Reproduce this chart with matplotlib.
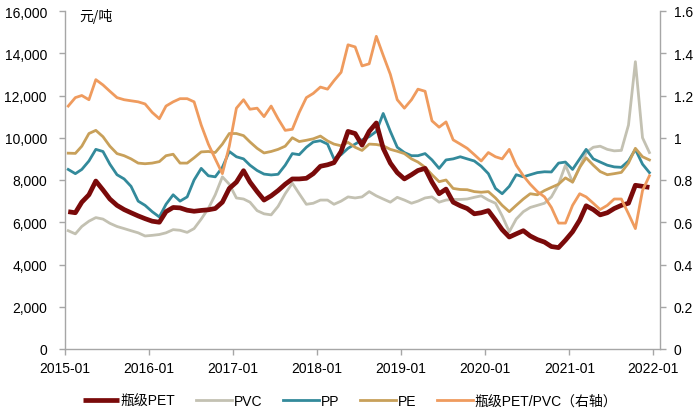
import matplotlib
matplotlib.use("Agg")
import matplotlib.pyplot as plt
import matplotlib.dates as mdates
from matplotlib.ticker import FuncFormatter, MultipleLocator
import pandas as pd

plt.rcParams['font.family'] = ['Liberation Sans', 'Noto Sans CJK SC', 'DejaVu Sans']

# monthly observations (mid-month), 2015-01 .. 2021-12
dates = pd.date_range('2015-01-01', periods=84, freq='MS') + pd.Timedelta(days=14)

pet = [6500, 6450, 6950, 7300, 7950, 7530, 7100, 6800, 6600, 6450, 6300, 6170,
       6050, 6000, 6500, 6700, 6680, 6570, 6520, 6560, 6590, 6650, 6950, 7600,
       7900, 8440, 7900, 7450, 7050, 7250, 7500, 7800, 8050, 8050, 8080, 8300,
       8650, 8720, 8820, 9350, 10300, 10200, 9650, 10300, 10700, 9500, 8800, 8350,
       8050, 8250, 8450, 8550, 7900, 7350, 7570, 6950, 6780, 6650, 6400, 6450,
       6550, 6100, 5650, 5300, 5450, 5600, 5350, 5180, 5060, 4850, 4800, 5150,
       5550, 6100, 6780, 6600, 6350, 6450, 6650, 6800, 6900, 7750, 7700, 7650]

pvc = [5600, 5450, 5800, 6050, 6220, 6150, 5950, 5800, 5700, 5600, 5500, 5350,
       5380, 5420, 5500, 5650, 5620, 5520, 5700, 6150, 6650, 7300, 8150, 7800,
       7150, 7100, 6950, 6550, 6400, 6350, 6750, 7350, 7850, 7350, 6850, 6900,
       7050, 7050, 6850, 7000, 7200, 7150, 7200, 7450, 7250, 7100, 6950, 7180,
       7050, 6900, 7000, 7150, 7200, 6950, 7050, 7080, 7080, 7100, 7180, 7250,
       7050, 6900, 6300, 5550, 6150, 6500, 6700, 6800, 6900, 7200, 7800, 8700,
       7900, 8600, 9300, 9550, 9600, 9450, 9380, 9400, 10600, 13600, 10000, 9300]

pp = [8500, 8300, 8500, 8900, 9450, 9350, 8750, 8250, 8050, 7700, 7000, 6800,
      6500, 6250, 6850, 7300, 7000, 7200, 8000, 8550, 8200, 8150, 8600, 9350,
      9100, 9000, 8700, 8450, 8280, 8240, 8270, 8700, 9250, 9200, 9550, 9800,
      9860, 9700, 9000, 9200, 9500, 9700, 9900, 10050, 10300, 11150, 10300, 9550,
      9300, 9150, 9150, 9250, 8950, 8550, 8950, 9000, 9100, 9000, 8900, 8650,
      8300, 7600, 7350, 7700, 8250, 8150, 8250, 8350, 8390, 8380, 8800, 8850,
      8500, 9000, 9450, 9000, 8850, 8700, 8620, 8600, 8900, 9450, 8750, 8350]

pe = [9270, 9260, 9600, 10200, 10350, 10050, 9600, 9250, 9150, 9000, 8800, 8770,
      8800, 8870, 9150, 9220, 8800, 8800, 9050, 9330, 9350, 9300, 9700, 10200,
      10200, 10100, 9800, 9500, 9280, 9350, 9450, 9600, 10000, 9820, 9880, 9950,
      10080, 9850, 9700, 9620, 9780, 9550, 9400, 9700, 9680, 9620, 9450, 9360,
      9250, 9000, 8850, 8600, 8250, 7920, 8000, 7600, 7550, 7540, 7450, 7420,
      7450, 7150, 6800, 6500, 6800, 7100, 7350, 7300, 7500, 7650, 7800, 8100,
      7900, 8600, 9050, 8700, 8400, 8250, 8300, 8360, 8800, 9500, 9100, 8950]

ratio = [1.15, 1.19, 1.20, 1.18, 1.275, 1.25, 1.22, 1.19, 1.18, 1.175, 1.17, 1.16,
         1.12, 1.09, 1.15, 1.17, 1.185, 1.185, 1.17, 1.06, 0.97, 0.90, 0.83, 0.96,
         1.14, 1.18, 1.135, 1.14, 1.10, 1.15, 1.09, 1.035, 1.04, 1.12, 1.19, 1.21,
         1.24, 1.23, 1.27, 1.31, 1.44, 1.43, 1.34, 1.35, 1.48, 1.39, 1.30, 1.18,
         1.14, 1.18, 1.23, 1.22, 1.08, 1.05, 1.075, 0.99, 0.97, 0.95, 0.92, 0.89,
         0.93, 0.91, 0.90, 0.945, 0.87, 0.82, 0.78, 0.745, 0.72, 0.67, 0.596, 0.596,
         0.68, 0.735, 0.72, 0.69, 0.66, 0.68, 0.71, 0.71, 0.64, 0.57, 0.75, 0.82]

labels = ['瓶级PET', 'PVC', 'PP', 'PE', '瓶级PET/PVC（右轴）']
colors = ['#7A0A0A', '#C3C1B2', '#338A9B', '#C8A05A', '#EF9B5E']
xticks = ['2015-01', '2016-01', '2017-01', '2018-01', '2019-01', '2020-01', '2021-01', '2022-01']

fig = plt.figure(figsize=(7.0, 4.14), dpi=100)
ax = fig.add_axes([65/700, 1-350/414, 595/700, 338/414])
ax2 = ax.twinx()

l1, = ax.plot(dates, pet, color=colors[0], lw=3.4, solid_capstyle='butt', zorder=5)
l2, = ax.plot(dates, pvc, color=colors[1], lw=2.0, zorder=2)
l3, = ax.plot(dates, pp, color=colors[2], lw=2.0, zorder=3)
l4, = ax.plot(dates, pe, color=colors[3], lw=2.0, zorder=4)
l5, = ax2.plot(dates, ratio, color=colors[4], lw=2.0)

ax.set_ylim(0, 16000)
ax2.set_ylim(0, 1.6)
ax.yaxis.set_major_locator(MultipleLocator(2000))
ax2.yaxis.set_major_locator(MultipleLocator(0.2))
ax.yaxis.set_major_formatter(FuncFormatter(lambda v, p: f"{int(v):,}"))
ax2.yaxis.set_major_formatter(FuncFormatter(lambda v, p: f"{v:g}"))

xt = pd.to_datetime(xticks)
ax.set_xticks(xt)
ax.set_xticklabels(xticks)
ax.set_xlim(pd.Timestamp('2015-01-01'), pd.Timestamp('2022-01-30'))

spine_c = '#A6A6A6'
for a in (ax, ax2):
    a.spines['top'].set_visible(False)
    for s in ('left', 'right', 'bottom'):
        a.spines[s].set_color(spine_c)
        a.spines[s].set_linewidth(1.0)
    a.tick_params(colors=spine_c, labelcolor='black', labelsize=10, length=4, width=1)
ax.spines['right'].set_visible(False)
ax2.spines['left'].set_visible(False)
ax2.spines['bottom'].set_visible(False)
ax.tick_params(axis='y', pad=9)
ax.tick_params(axis='x', pad=5)
ax2.tick_params(axis='y', pad=6)
ax.patch.set_visible(False)

ax.text((79-65)/595, 1-(16-12)/338, '元/吨', transform=ax.transAxes, fontsize=10,
        va='center', ha='left', family=['Noto Sans CJK SC', 'DejaVu Sans'])

fig.legend([l1, l2, l3, l4, l5], labels, loc='center',
           bbox_to_anchor=(0.5, 1-402/414), ncol=5, frameon=False,
           fontsize=10, handlelength=2.6, handletextpad=0.1,
           columnspacing=1.5, borderpad=0, borderaxespad=0)

fig.savefig('out.png', dpi=100)
